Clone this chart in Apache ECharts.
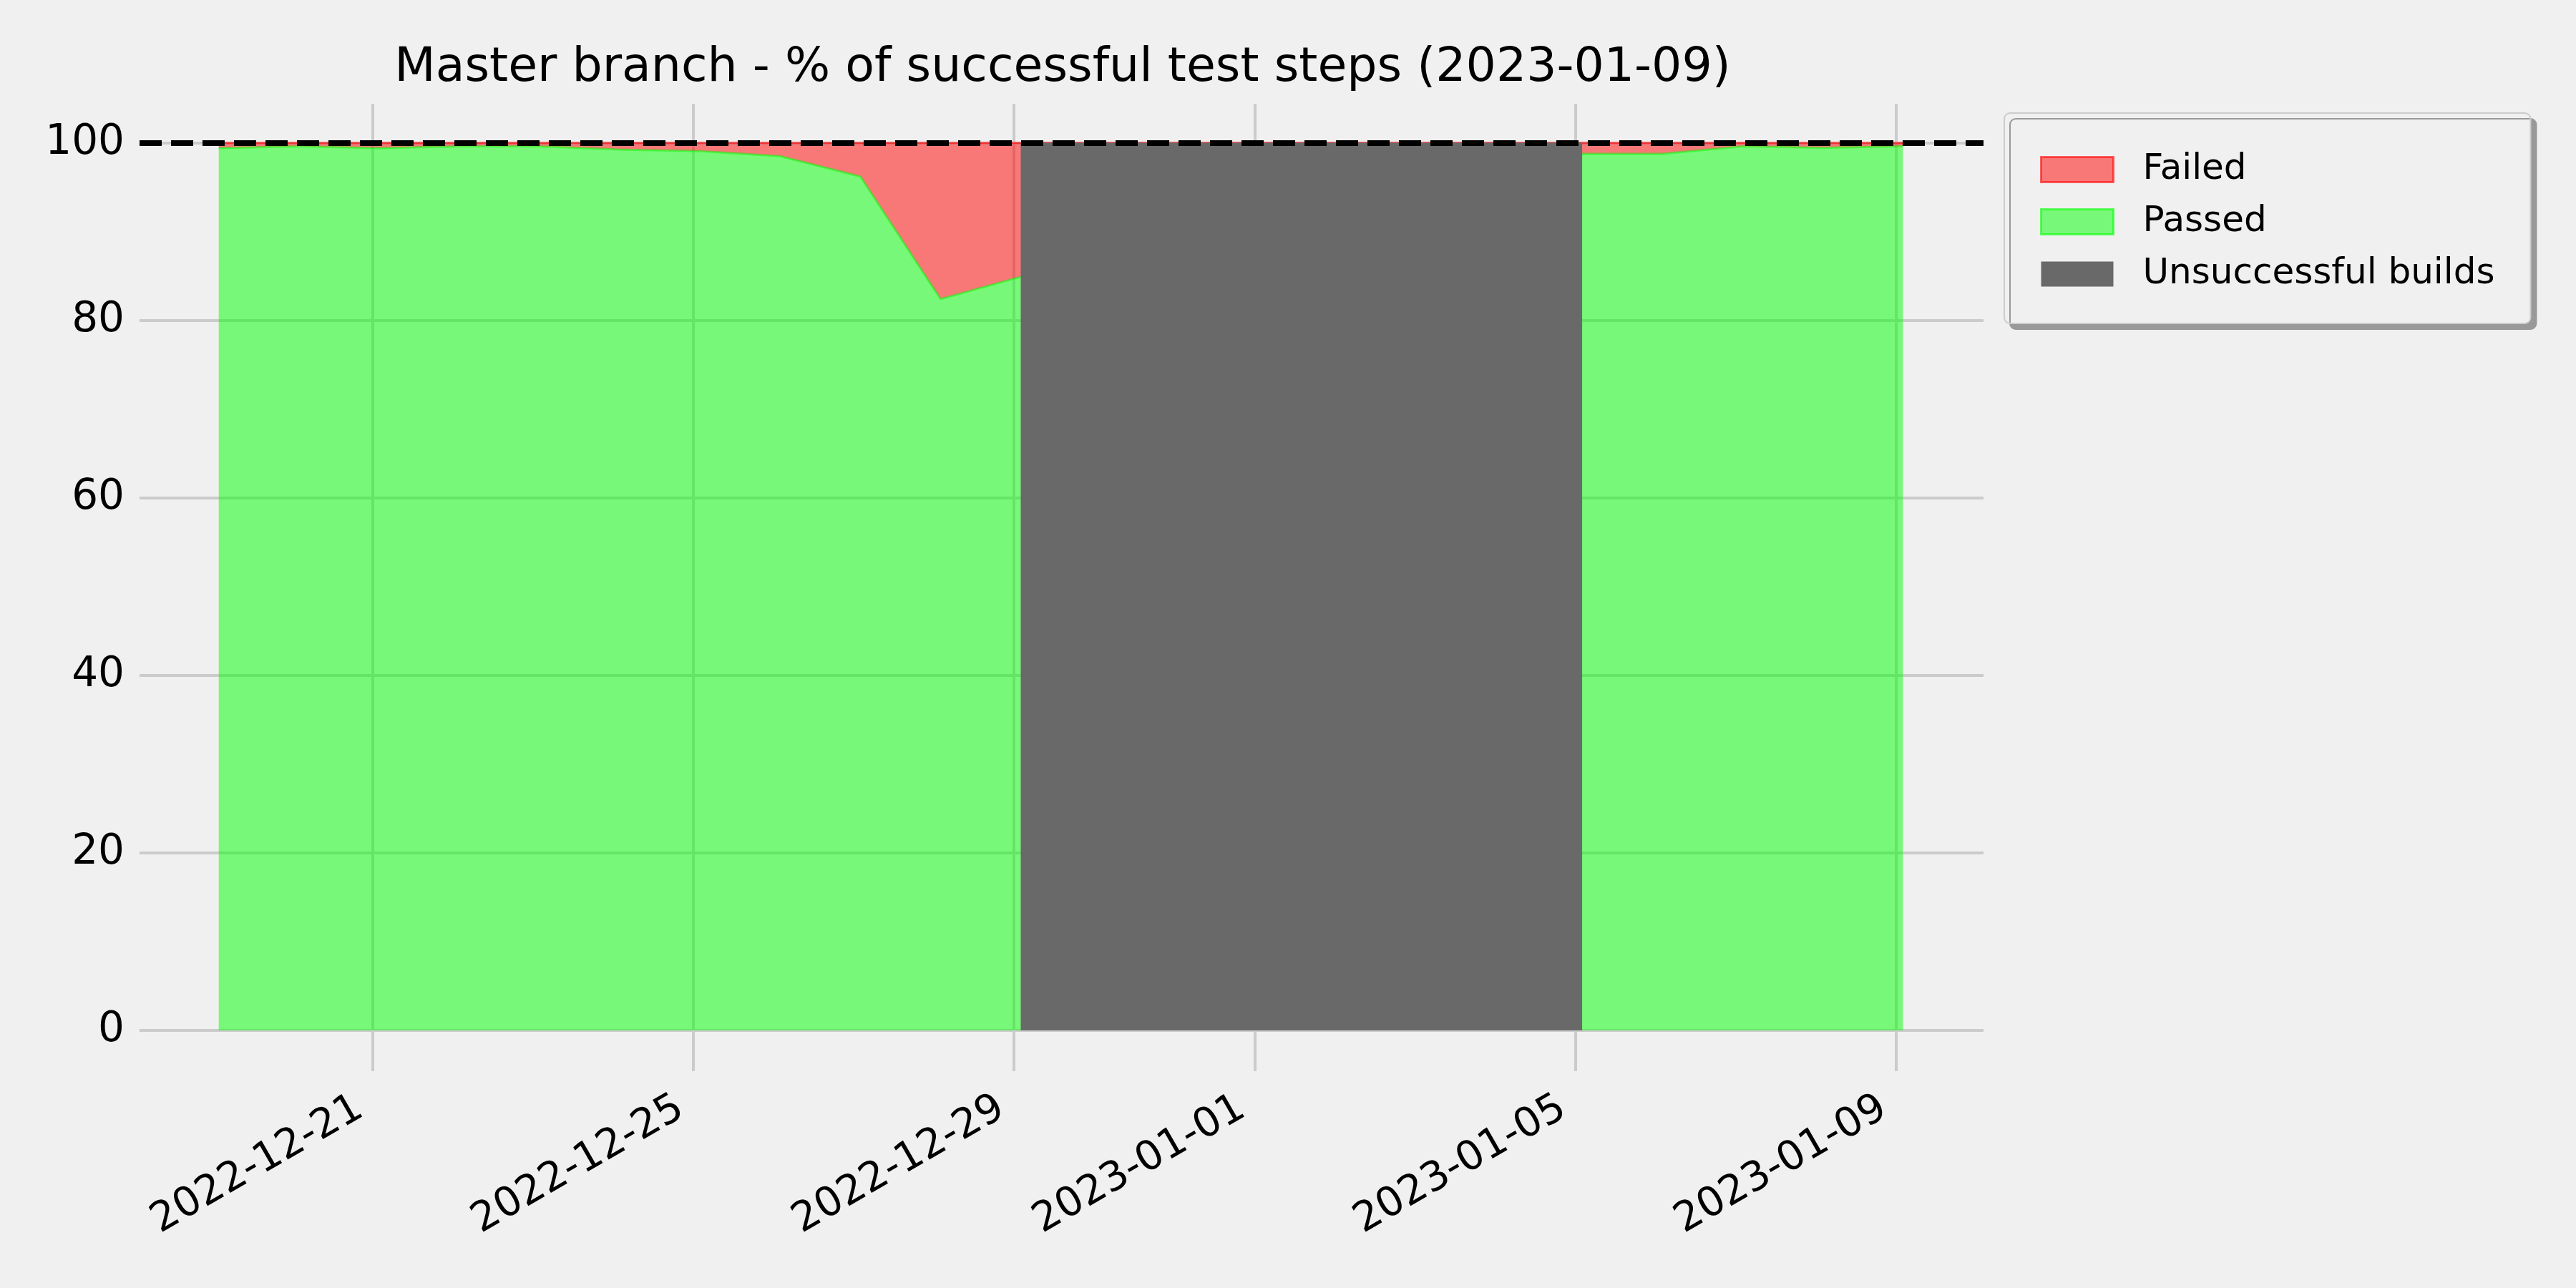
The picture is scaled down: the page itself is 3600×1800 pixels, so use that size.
<!DOCTYPE html>
<html><head><meta charset="utf-8">
<script src="https://cdn.jsdelivr.net/npm/echarts@6/dist/echarts.min.js"></script>
<style>html,body{margin:0;padding:0;background:#f0f0f0}#c{width:3600px;height:1800px}</style>
</head><body><div id="c"></div>
<script>
// ---- data ----
const titleText = 'Master branch - % of successful test steps (2023-01-09)';
const dates = ['2022-12-19','2022-12-20','2022-12-21','2022-12-22','2022-12-23','2022-12-24','2022-12-25','2022-12-26','2022-12-27','2022-12-28','2022-12-29','2023-01-05','2023-01-06','2023-01-07','2023-01-08','2023-01-09'];
const passed = [99.4, 99.6, 99.4, 99.6, 99.6, 99.25, 99.05, 98.5, 96.2, 82.4, 84.9, 98.75, 98.75, 99.6, 99.45, 99.6];
const failed = [0.6, 0.4, 0.6, 0.4, 0.4, 0.75, 0.95, 1.5, 3.8, 17.6, 15.1, 1.25, 1.25, 0.4, 0.55, 0.4];
const unsuccessfulDates = ['2022-12-29','2022-12-30','2022-12-31','2023-01-01','2023-01-02','2023-01-03','2023-01-04','2023-01-05'];
const unsuccessfulLevel = [100, 100, 100, 100, 100, 100, 100, 100];
const xTickLabels = ['2022-12-21','2022-12-25','2022-12-29','2023-01-01','2023-01-05','2023-01-09'];
const yTickLabels = [0, 20, 40, 60, 80, 100];
const targetValue = 100;
const buildTime = 'T02:00';
const xMin = '2022-12-18T02:18';
const xMax = '2023-01-10T02:07';
const yMin = -4.6, yMax = 104.4;

// ---- helpers ----
function ts(s) { return new Date(s.length === 10 ? s + 'T00:00' : s).getTime(); }
function pad(n) { return (n < 10 ? '0' : '') + n; }
function fmtDate(v) { const d = new Date(v); return d.getFullYear() + '-' + pad(d.getMonth() + 1) + '-' + pad(d.getDate()); }

const FONT = 'DejaVu Sans';
const passedData = dates.map((d, i) => [ts(d + buildTime), passed[i]]);
const failedData = dates.map((d, i) => [ts(d + buildTime), failed[i]]);
const unsuccessfulData = unsuccessfulDates.map((d, i) => [ts(d + buildTime), unsuccessfulLevel[i]]);
const xTickVals = xTickLabels.map(ts);

const chart = echarts.init(document.getElementById('c'), null, { renderer: 'canvas' });
chart.setOption({
  animation: false,
  backgroundColor: '#f0f0f0',
  title: {
    text: titleText,
    left: 1480, top: 57, textAlign: 'center',
    textStyle: { fontFamily: FONT, fontSize: 66.5, fontWeight: 'normal', color: '#000' }
  },
  legend: {
    orient: 'vertical',
    left: 2801, top: 158,
    padding: [54, 50, 44, 50],
    icon: 'rect',
    itemWidth: 101, itemHeight: 35, itemGap: 23,
    backgroundColor: '#f0f0f0',
    borderColor: '#cccccc', borderWidth: 2, borderRadius: 8,
    shadowColor: '#999999', shadowBlur: 0, shadowOffsetX: 8, shadowOffsetY: 8,
    textStyle: { fontFamily: FONT, fontSize: 50, color: '#000', padding: [0, 0, 0, 36] },
    data: [
      { name: 'Failed', itemStyle: { color: 'rgba(255,0,0,0.5)', borderColor: 'rgba(255,0,0,0.6)', borderWidth: 3 } },
      { name: 'Passed', itemStyle: { color: 'rgba(0,255,0,0.5)', borderColor: 'rgba(0,255,0,0.6)', borderWidth: 3 } },
      { name: 'Unsuccessful builds', itemStyle: { color: '#696969', borderWidth: 0 } }
    ]
  },
  grid: { left: 195, right: 828, top: 145, bottom: 303, containLabel: false },
  xAxis: [
    {
      // data axis (time), hidden
      type: 'time', position: 'top', min: ts(xMin), max: ts(xMax),
      axisLine: { show: false, onZero: false },
      axisTick: { show: false },
      axisLabel: { show: false },
      splitLine: { show: false }
    },
    {
      // display axis with same range: ticks, labels and vertical grid
      type: 'value', position: 'bottom', min: ts(xMin), max: ts(xMax), scale: true,
      axisLine: { show: false, onZero: false },
      axisTick: { show: false, customValues: xTickVals },
      axisLabel: {
        customValues: xTickVals, rotate: 30, margin: 38,
        padding: [0, 20, 0, 0],
        fontFamily: FONT, fontSize: 57, color: '#000',
        formatter: (v) => fmtDate(v)
      },
      splitLine: { show: true, lineStyle: { color: '#cbcbcb', width: 4 } }
    }
  ],
  yAxis: {
    type: 'value', min: yMin, max: yMax,
    axisLine: { show: false },
    axisTick: { show: false, customValues: yTickLabels },
    axisLabel: { customValues: yTickLabels, margin: 21, padding: [6, 0, 0, 0], fontFamily: FONT, fontSize: 58, color: '#000' },
    splitLine: { show: true, lineStyle: { color: '#cbcbcb', width: 4 } }
  },
  series: [
    {
      name: 'Passed', type: 'line', stack: 'pct', xAxisIndex: 0,
      data: passedData, z: 2,
      showSymbol: false, symbol: 'none',
      lineStyle: { color: 'rgba(0,255,0,0.5)', width: 3 },
      itemStyle: { color: 'rgba(0,255,0,0.5)' },
      areaStyle: { color: 'rgba(0,255,0,0.5)', opacity: 1 }
    },
    {
      name: 'Failed', type: 'line', stack: 'pct', xAxisIndex: 0,
      data: failedData, z: 2,
      showSymbol: false, symbol: 'none',
      lineStyle: { color: 'rgba(255,0,0,0.5)', width: 3 },
      itemStyle: { color: 'rgba(255,0,0,0.5)' },
      areaStyle: { color: 'rgba(255,0,0,0.5)', opacity: 1 }
    },
    {
      name: 'Unsuccessful builds', type: 'line', xAxisIndex: 0,
      data: unsuccessfulData, z: 3,
      showSymbol: false, symbol: 'none',
      lineStyle: { width: 0, color: '#696969' },
      itemStyle: { color: '#696969' },
      areaStyle: { color: '#696969', opacity: 1 }
    },
    {
      name: 'target', type: 'line', xAxisIndex: 0, data: [], z: 10,
      markLine: {
        silent: true, symbol: 'none', animation: false,
        label: { show: false },
        lineStyle: { color: '#000', type: [31, 13], width: 8 },
        data: [{ yAxis: targetValue }]
      }
    }
  ]
});
</script>
</body></html>
